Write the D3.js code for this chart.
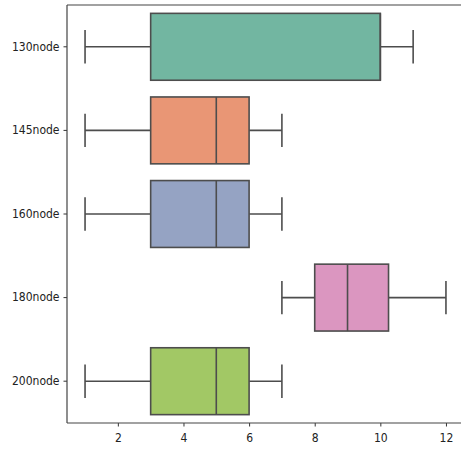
<!DOCTYPE html>
<html>
<head>
<meta charset="utf-8">
<script src="https://cdn.jsdelivr.net/npm/d3@7"></script>
<style>
  html, body { margin: 0; padding: 0; background: #fff; overflow: hidden; }
  svg { display: block; overflow: hidden; }
</style>
</head>
<body>
<svg id="chart" width="461" height="452"></svg>
<script>
// Box statistics per node count
const categories = ["130node", "145node", "160node", "180node", "200node"];
const whiskerLow  = [1, 1, 1, 7, 1];
const q1          = [3, 3, 3, 8, 3];
const median      = [10, 5, 5, 9, 5];
const q3          = [10, 6, 6, 10.25, 6];
const whiskerHigh = [11, 7, 7, 12, 7];
const xTicks = [2, 4, 6, 8, 10, 12];
const palette = ["#66c2a5", "#fc8d62", "#8da0cb", "#e78ac3", "#a6d854"];

const svg = d3.select("#chart");
const W = 461;
const margin = { left: 67, top: 5 };
const plotH = 418;

// value axis; the plot area runs on past the right edge of the canvas
const x = d3.scaleLinear().domain([0.45, 12.55]).range([margin.left, margin.left + 397]);
const y = d3.scaleBand().domain(categories).range([margin.top, margin.top + plotH]).paddingInner(0.2).paddingOuter(0.1);

const lineColor = "#4d4d4d";
const lw = 1.6;

// soften fill colours the way the plotting defaults do
const fillOf = i => { const c = d3.hsl(palette[i]); c.s *= 0.75; return c.formatHex(); };

const rows = categories.map((c, i) => ({
  name: c, lo: whiskerLow[i], q1: q1[i], med: median[i], q3: q3[i], hi: whiskerHigh[i], fill: fillOf(i)
}));

const g = svg.append("g");
const box = g.selectAll("g.box").data(rows).join("g").attr("class", "box");
const mid = d => y(d.name) + y.bandwidth() / 2;

// whisker lines
box.append("line")
  .attr("x1", d => x(d.lo)).attr("x2", d => x(d.q1))
  .attr("y1", mid).attr("y2", mid)
  .attr("stroke", lineColor).attr("stroke-width", lw);
box.append("line")
  .attr("x1", d => x(d.q3)).attr("x2", d => x(d.hi))
  .attr("y1", mid).attr("y2", mid)
  .attr("stroke", lineColor).attr("stroke-width", lw);
// caps
const capHalf = y.bandwidth() / 4;
["lo", "hi"].forEach(k => {
  box.append("line")
    .attr("x1", d => x(d[k])).attr("x2", d => x(d[k]))
    .attr("y1", d => mid(d) - capHalf).attr("y2", d => mid(d) + capHalf)
    .attr("stroke", lineColor).attr("stroke-width", lw);
});
// boxes
box.append("rect")
  .attr("x", d => x(d.q1)).attr("width", d => x(d.q3) - x(d.q1))
  .attr("y", d => y(d.name)).attr("height", y.bandwidth())
  .attr("fill", d => d.fill)
  .attr("stroke", lineColor).attr("stroke-width", lw);
// medians
box.append("line")
  .attr("x1", d => x(d.med)).attr("x2", d => x(d.med))
  .attr("y1", d => y(d.name)).attr("y2", d => y(d.name) + y.bandwidth())
  .attr("stroke", lineColor).attr("stroke-width", lw);

// axes
const font = "'DejaVu Sans Condensed', 'DejaVu Sans', sans-serif";
const xAxis = svg.append("g")
  .attr("transform", `translate(0,${margin.top + plotH})`)
  .call(d3.axisBottom(x).tickValues(xTicks).tickSize(3.5).tickPadding(7).tickSizeOuter(0));
const yAxis = svg.append("g")
  .attr("transform", `translate(${margin.left},0)`)
  .call(d3.axisLeft(y).tickSize(3.5).tickPadding(4).tickSizeOuter(0));
[xAxis, yAxis].forEach(a => {
  a.select(".domain").remove();
  a.selectAll("line").attr("stroke", "#333").attr("stroke-width", 1);
  a.selectAll("text").attr("fill", "#222").style("font-family", font).style("font-size", "12px");
});

// spines: left, top and bottom (the right one lies beyond the canvas)
const spine = (x1, y1, x2, y2) => svg.append("line")
  .attr("x1", x1).attr("y1", y1).attr("x2", x2).attr("y2", y2)
  .attr("stroke", "#444").attr("stroke-width", 1.2);
spine(margin.left, margin.top, W, margin.top);
spine(margin.left, margin.top + plotH, W, margin.top + plotH);
spine(margin.left, margin.top, margin.left, margin.top + plotH);
</script>
</body>
</html>
